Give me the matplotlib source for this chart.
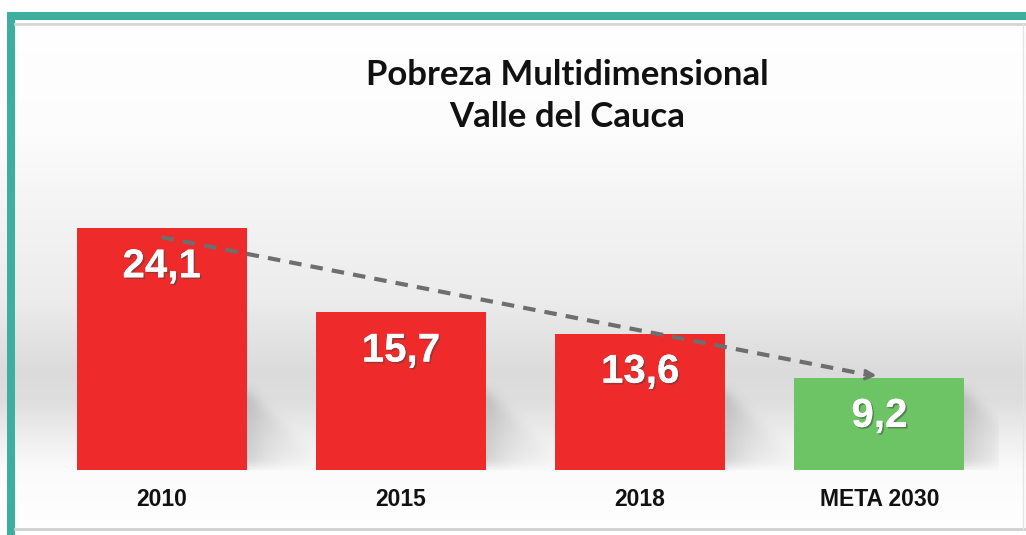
import numpy as np
import matplotlib.pyplot as plt
import matplotlib.patheffects as pe
from matplotlib.patches import Rectangle

# datos
categorias = ['2010', '2015', '2018', 'META 2030']
valores = [24.1, 15.7, 13.6, 9.2]
etiquetas = ['24,1', '15,7', '13,6', '9,2']
colores = ['#ee2a2a', '#ee2a2a', '#ee2a2a', '#6cc465']
titulo = 'Pobreza Multidimensional\nValle del Cauca'

W, H = 1026, 535
fig = plt.figure(figsize=(W / 100, H / 100), dpi=100)
fig.patch.set_facecolor('white')

# fondo con degradado vertical
bg = fig.add_axes([0, 0, 1, 1])
bg.set_axis_off()
ypx = np.arange(H)
perfil = np.interp(ypx, [0, 130, 200, 300, 370, 400, 440, 470, 535],
                   [1.0, 0.99, 0.96, 0.925, 0.86, 0.87, 0.94, 0.985, 1.0])
grad = np.repeat(perfil[:, None], 10, axis=1)
bg.imshow(np.dstack([grad] * 3), extent=[0, W, H, 0], aspect='auto')
bg.set_xlim(0, W)
bg.set_ylim(H, 0)

# marco
bg.add_patch(Rectangle((7, 12), W, 8, color='#3daf9f', lw=0))
bg.add_patch(Rectangle((7, 12), 8, H, color='#3daf9f', lw=0))
bg.plot([15, W], [24, 24], color='#d6d6d6', lw=2)
bg.plot([15, W], [529, 529], color='#d0d0d0', lw=2)
bg.plot([1023, 1023], [24, 529], color='#e4e4e4', lw=1)

ax = fig.add_axes([42 / W, 65 / H, 957 / W, 301 / H])
ax.patch.set_alpha(0)
x = np.arange(len(valores))
ancho = 0.71
ax.set_xlim(-0.5, len(valores) - 0.5)
ax.set_ylim(0, 30)

# sombras suaves a la derecha de cada barra
nx, ny = 800, 300
gx = np.linspace(-0.5, len(valores) - 0.5, nx)
gy = np.linspace(0, 30, ny)
XX, YY = np.meshgrid(gx, gy)
sombra = np.zeros_like(XX)
for xi, v in zip(x, valores):
    r = xi + ancho / 2
    alto = min(v, 8.0)
    dx = XX - r
    techo = alto * (1 - np.clip(dx, 0, None) / 0.33)
    dentro = (dx > -0.25) & (dx < 0.3) & (YY > 0.4) & (YY < techo)
    f = np.exp(-np.clip(dx, 0, None) / 0.13)
    sombra = np.maximum(sombra, dentro * f * 0.3)
k = np.exp(-np.linspace(-3, 3, 31) ** 2 / 2)
k /= k.sum()
sombra = np.apply_along_axis(lambda c: np.convolve(c, k, mode='same'), 0, sombra)
sombra = np.apply_along_axis(lambda c: np.convolve(c, k, mode='same'), 1, sombra)
img = np.zeros((ny, nx, 4))
img[..., :3] = 0.45
img[..., 3] = sombra
ax.imshow(img, extent=[gx[0], gx[-1], 0, 30], origin='lower', aspect='auto', zorder=1)

ax.bar(x, valores, width=ancho, color=colores, zorder=2)

for xi, v, t in zip(x, valores, etiquetas):
    ax.text(xi, v - 3.8, t, ha='center', va='center', color='white',
            fontsize=29, fontweight='bold', family='Liberation Sans', zorder=4,
            path_effects=[pe.withSimplePatchShadow(offset=(1.2, -1.2), shadow_rgbFace='#444444', alpha=0.5),
                          pe.Normal()])

# flecha de tendencia
y0, y1 = valores[0] - 0.9, valores[-1] + 0.2
ax.plot([x[0], x[-1] - 0.04], [y0, y1 + 0.05], ls=(0, (3, 2.2)), color='#6e6e6e', lw=3, zorder=3)
ax.annotate('', xy=(x[-1], y1), xytext=(x[-1] - 0.06, y1 + 0.1),
            arrowprops=dict(arrowstyle='->', color='#6e6e6e', lw=2.5, mutation_scale=14), zorder=3)

ax.set_xticks(x)
ax.set_xticklabels(categorias, fontsize=16.5, fontweight='bold', family='Liberation Sans', color='#111111')
ax.tick_params(axis='x', length=0, pad=13)
ax.set_yticks([])
for s in ax.spines.values():
    s.set_visible(False)

fig.text(567 / W, 1 - 96 / H, titulo, ha='center', va='center', fontsize=25,
         fontweight='bold', family='Lato', color='#111111', linespacing=1.35)

fig.savefig('out.png', dpi=100)
